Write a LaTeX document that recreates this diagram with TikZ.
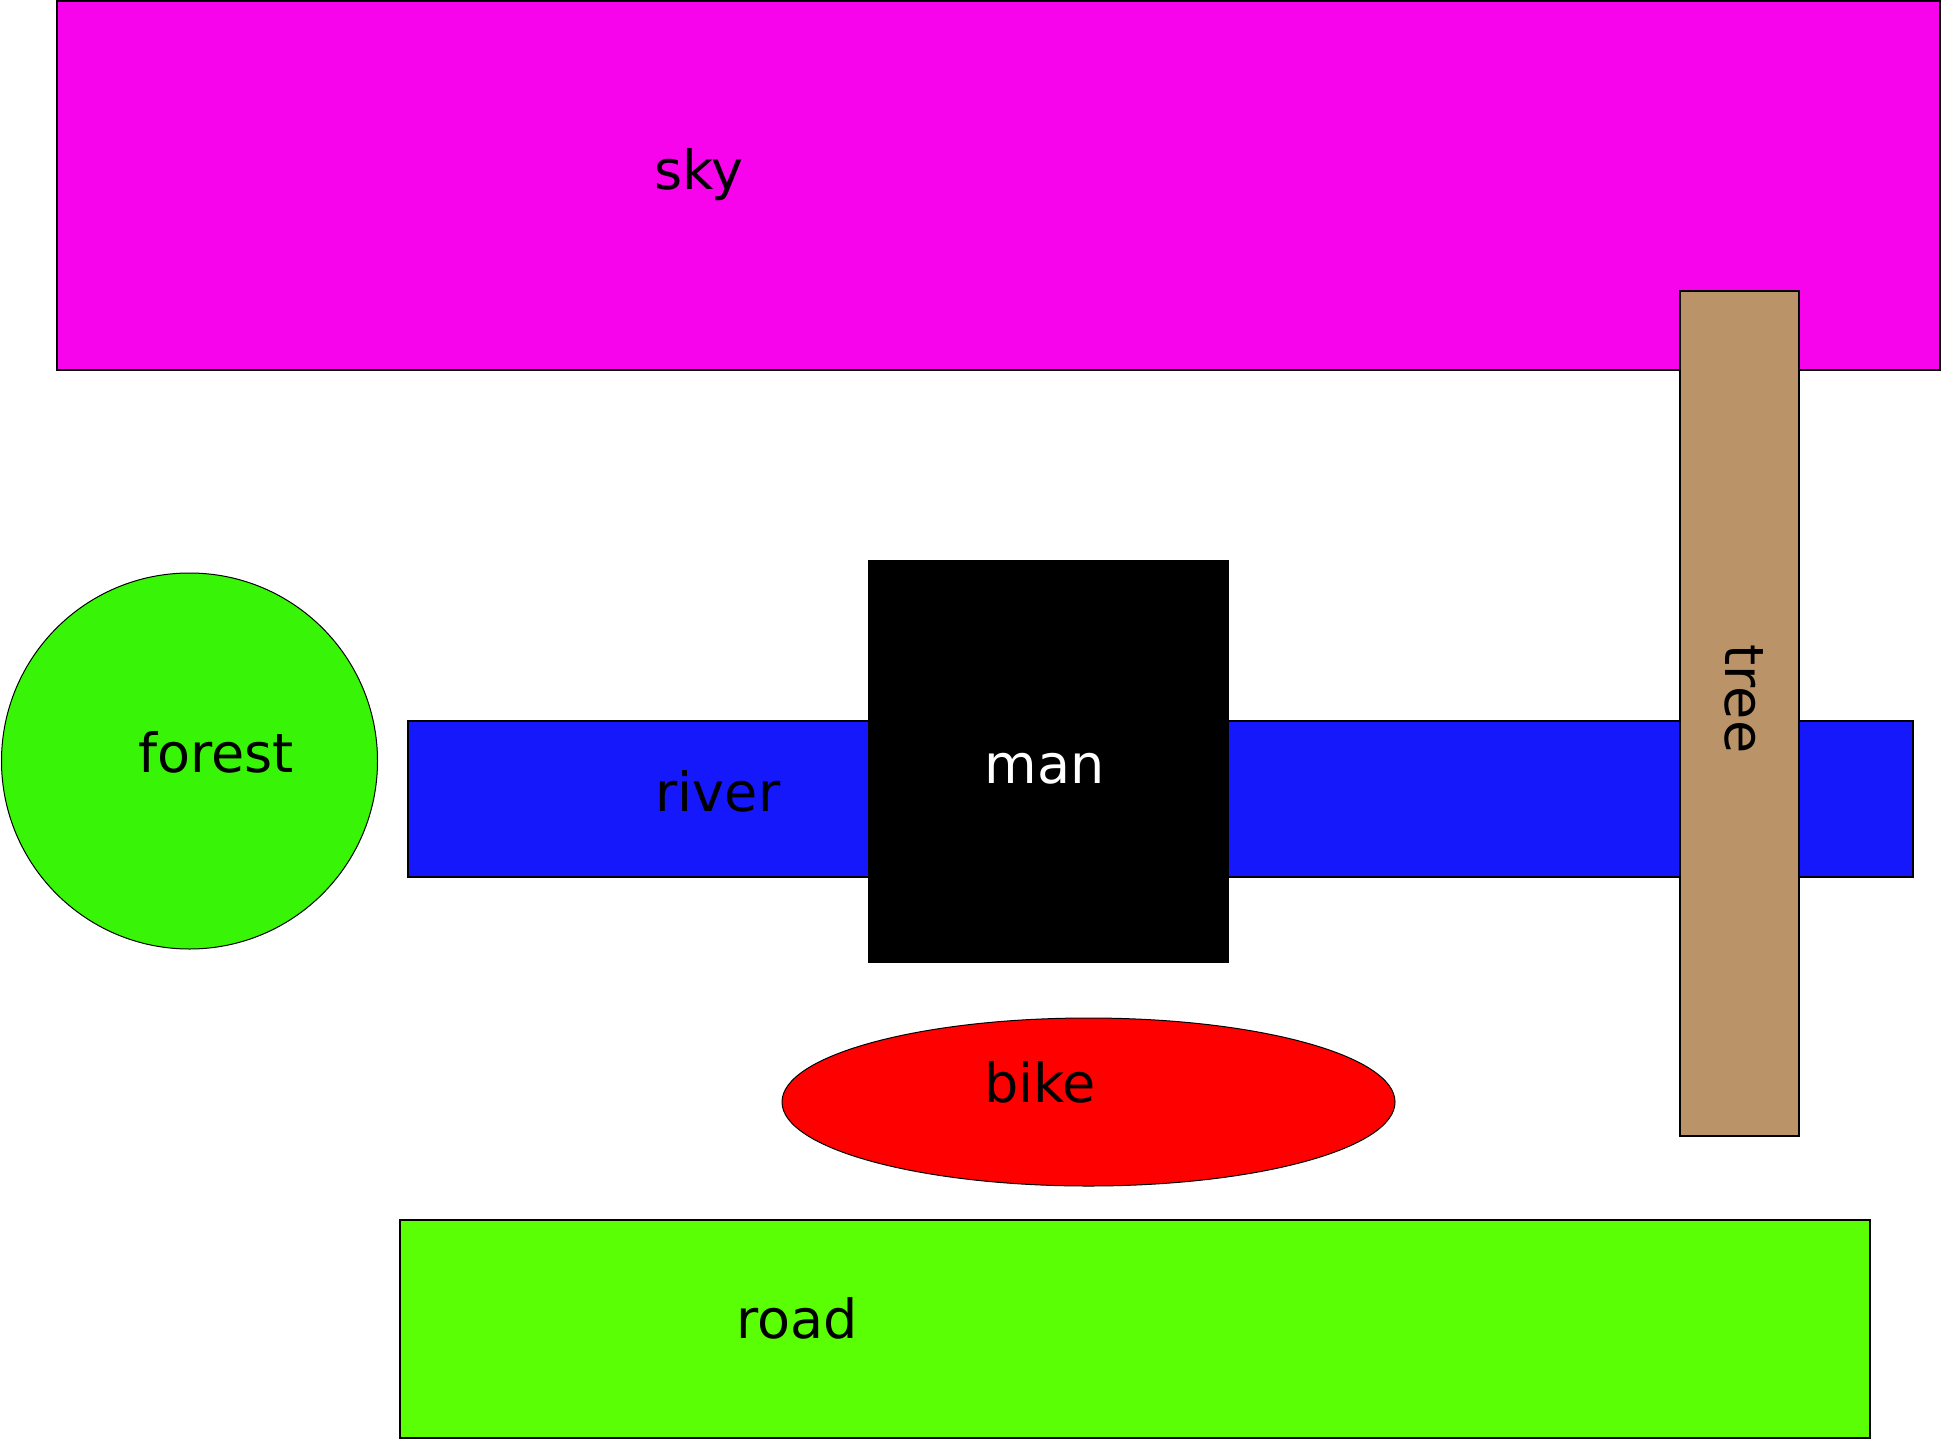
\documentclass[tikz,border=0pt]{standalone}
\usepackage{fontspec}
\setmainfont{DejaVu Sans}
\definecolor{skyc}{RGB}{247,4,236}
\definecolor{riverc}{RGB}{20,24,250}
\definecolor{treec}{RGB}{186,147,105}
\definecolor{forestc}{RGB}{56,245,8}
\definecolor{roadc}{RGB}{91,255,5}
\newcommand{\zone}[5]{
\draw[line width=1,fill=#5] (#1,#2) rectangle (#3,#4);}
\newcommand{\lbl}[4]{
\node[anchor=base,text=#4,inner sep=0] (#1) at (#2,#3) {#1};}

\begin{document}
\begin{tikzpicture}[x=0.5pt,y=-0.5pt,font=\fontsize{27}{31}\selectfont]
\useasboundingbox (0,0) rectangle (1941,1439);

\zone{57}{1}{1940}{370}{skyc}
\zone{408}{721}{1913}{877}{riverc}
\fill[black] (868,560) rectangle (1229,963);
\zone{1680}{291}{1799}{1136}{treec}

\draw[line width=0.5,fill=forestc] (189.5,761) circle (188);
\draw[line width=0.5,fill=red] (1088.5,1102) ellipse (306.5 and 84);
\zone{400}{1220}{1870}{1438}{roadc}

\lbl{sky}{699}{190}{black}
\lbl{forest}{216}{772}{black}
\lbl{river}{718}{811}{black}
\lbl{man}{1044.5}{783}{white}
\lbl{bike}{1040}{1102}{black}
\lbl{road}{797}{1338}{black}
\node[rotate=-90,anchor=base,inner sep=0] (tree) at (1725,699) {tree};

\end{tikzpicture}
\end{document}
